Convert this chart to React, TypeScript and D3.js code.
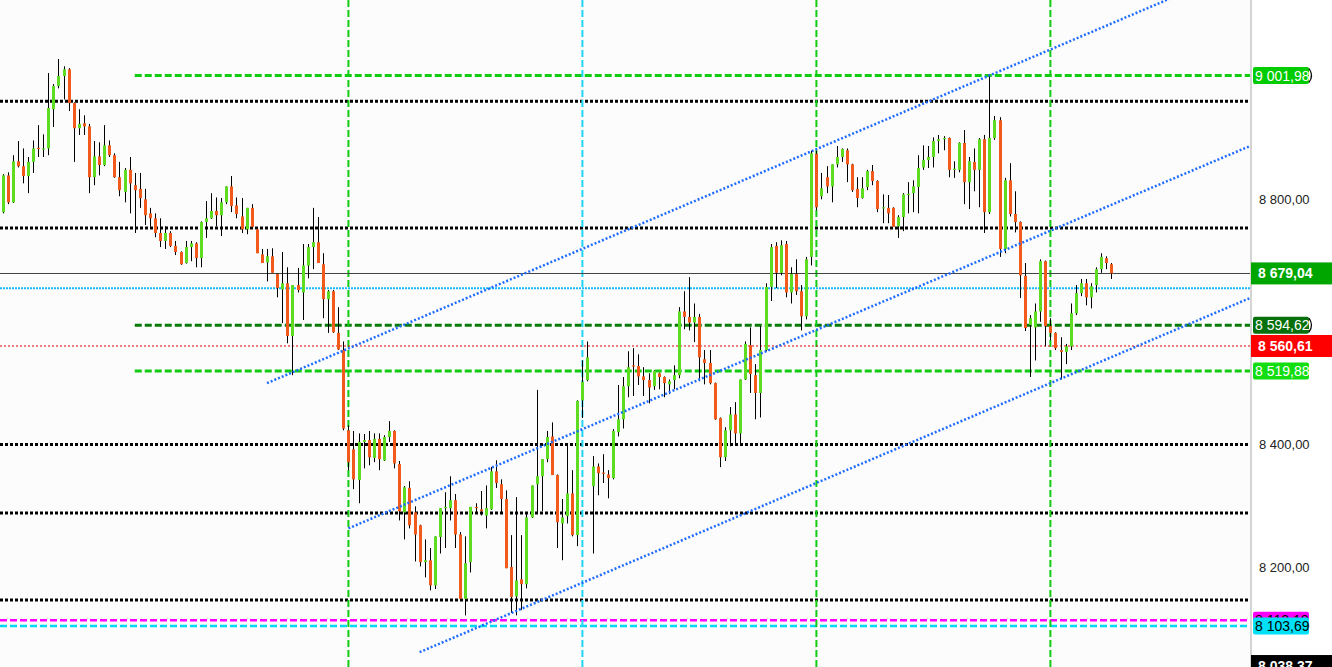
import React from "react";
import * as d3 from "d3";

const W = 1332;
const H = 667;
const PLOT_R = 1250;

const opens = [
  8779, 8839, 8795, 8862, 8854, 8838, 8861, 8884, 8881, 8883, 8947, 8985, 9001, 9012, 8957, 8916, 8924, 8919, 8836, 8870,
  8856, 8888, 8872, 8836, 8812, 8848, 8823, 8817, 8800, 8777, 8769, 8745, 8732, 8745, 8724, 8714, 8696, 8722, 8728, 8704,
  8763, 8769, 8781, 8774, 8795, 8821, 8790, 8772, 8751, 8786, 8751, 8710, 8697, 8707, 8678, 8653, 8663, 8577, 8660, 8648,
  8692, 8722, 8730, 8694, 8637, 8650, 8582, 8554, 8423, 8392, 8342, 8404, 8407, 8378, 8409, 8374, 8412, 8422, 8368, 8289,
  8329, 8289, 8268, 8208, 8211, 8170, 8249, 8296, 8296, 8309, 8253, 8148, 8208, 8298, 8294, 8284, 8294, 8356, 8335, 8311,
  8200, 8152, 8180, 8172, 8281, 8335, 8348, 8376, 8413, 8350, 8271, 8283, 8320, 8252, 8472, 8505, 8332, 8364, 8354, 8351,
  8345, 8420, 8441, 8495, 8529, 8528, 8511, 8505, 8495, 8516, 8510, 8498, 8505, 8513, 8617, 8608, 8599, 8608, 8539, 8533,
  8500, 8443, 8379, 8423, 8449, 8418, 8506, 8562, 8513, 8484, 8554, 8657, 8724, 8680, 8727, 8648, 8678, 8650, 8609, 8706,
  8874, 8805, 8836, 8821, 8857, 8869, 8880, 8857, 8817, 8802, 8820, 8846, 8830, 8785, 8786, 8786, 8756, 8771, 8807, 8810,
  8820, 8852, 8864, 8869, 8895, 8898, 8900, 8848, 8848, 8892, 8828, 8861, 8848, 8898, 8779, 8900, 8929, 8719, 8831, 8776,
  8763, 8675, 8595, 8591, 8617, 8699, 8593, 8582, 8554, 8551, 8560, 8614, 8647, 8663, 8640, 8660, 8686, 8704, 8694,
];
const highs = [
  8841, 8844, 8872, 8895, 8883, 8869, 8896, 8921, 8906, 9006, 8988, 9029, 9017, 9014, 8958, 8947, 8937, 8923, 8895, 8893,
  8921, 8896, 8875, 8861, 8851, 8869, 8843, 8843, 8817, 8786, 8777, 8769, 8756, 8748, 8732, 8715, 8732, 8732, 8730, 8764,
  8797, 8810, 8803, 8802, 8821, 8838, 8803, 8802, 8786, 8792, 8752, 8719, 8719, 8720, 8679, 8714, 8689, 8660, 8688, 8727,
  8727, 8786, 8771, 8712, 8652, 8652, 8624, 8568, 8431, 8422, 8418, 8417, 8422, 8418, 8418, 8415, 8438, 8423, 8373, 8332,
  8340, 8299, 8269, 8245, 8231, 8250, 8296, 8322, 8348, 8319, 8257, 8250, 8298, 8304, 8324, 8333, 8363, 8374, 8343, 8325,
  8252, 8314, 8252, 8288, 8333, 8489, 8376, 8422, 8436, 8351, 8311, 8400, 8358, 8472, 8537, 8568, 8381, 8369, 8384, 8358,
  8425, 8497, 8510, 8552, 8557, 8547, 8526, 8516, 8521, 8517, 8511, 8506, 8529, 8624, 8650, 8673, 8630, 8613, 8554, 8554,
  8501, 8444, 8428, 8461, 8469, 8506, 8568, 8591, 8531, 8593, 8663, 8727, 8730, 8733, 8732, 8689, 8702, 8660, 8706, 8879,
  8879, 8843, 8854, 8857, 8887, 8883, 8883, 8858, 8836, 8836, 8848, 8856, 8831, 8808, 8807, 8787, 8774, 8810, 8828, 8831,
  8872, 8888, 8887, 8901, 8905, 8903, 8901, 8862, 8893, 8913, 8869, 8883, 8900, 8905, 9001.98, 8936, 8934, 8835, 8859, 8813,
  8764, 8696, 8611, 8630, 8702, 8700, 8606, 8583, 8575, 8564, 8630, 8660, 8670, 8670, 8663, 8689, 8712, 8707, 8696,
];
const lows = [
  8777, 8792, 8794, 8852, 8826, 8810, 8843, 8869, 8869, 8872, 8918, 8981, 8963, 8944, 8861, 8905, 8905, 8810, 8823, 8839,
  8854, 8869, 8835, 8805, 8795, 8777, 8745, 8786, 8758, 8755, 8738, 8722, 8719, 8722, 8709, 8693, 8695, 8699, 8689, 8689,
  8737, 8768, 8756, 8740, 8792, 8779, 8769, 8745, 8743, 8753, 8712, 8696, 8666, 8680, 8640, 8598, 8565, 8513, 8648, 8603,
  8671, 8686, 8696, 8606, 8582, 8582, 8554, 8423, 8358, 8327, 8304, 8361, 8366, 8371, 8358, 8373, 8404, 8361, 8276, 8245,
  8263, 8209, 8201, 8183, 8162, 8164, 8222, 8231, 8276, 8231, 8147, 8121, 8191, 8289, 8284, 8263, 8293, 8329, 8288, 8198,
  8125, 8121, 8130, 8165, 8280, 8289, 8291, 8371, 8350, 8231, 8211, 8271, 8250, 8234, 8443, 8503, 8222, 8317, 8337, 8312,
  8343, 8413, 8426, 8477, 8479, 8497, 8479, 8467, 8489, 8490, 8477, 8482, 8490, 8508, 8588, 8586, 8567, 8503, 8498, 8498,
  8440, 8363, 8373, 8397, 8402, 8402, 8505, 8484, 8441, 8444, 8552, 8634, 8655, 8676, 8640, 8630, 8644, 8586, 8604, 8692,
  8782, 8800, 8810, 8795, 8852, 8861, 8828, 8812, 8787, 8801, 8815, 8823, 8779, 8761, 8761, 8755, 8737, 8748, 8777, 8779,
  8777, 8848, 8851, 8852, 8875, 8880, 8836, 8835, 8844, 8792, 8784, 8813, 8787, 8745, 8776, 8897, 8706, 8712, 8772, 8746,
  8639, 8585, 8510, 8537, 8600, 8560, 8570, 8554, 8506, 8531, 8554, 8611, 8642, 8627, 8622, 8648, 8680, 8686, 8670,
];
const closes = [
  8839, 8795, 8862, 8854, 8838, 8861, 8883, 8882, 8883, 8949, 8985, 9001, 9012, 8957, 8916, 8923, 8919, 8836, 8870, 8856,
  8888, 8872, 8836, 8815, 8848, 8826, 8815, 8802, 8774, 8769, 8745, 8732, 8745, 8724, 8714, 8694, 8722, 8728, 8704, 8763,
  8769, 8781, 8774, 8795, 8821, 8789, 8776, 8751, 8786, 8755, 8712, 8696, 8707, 8680, 8655, 8663, 8577, 8660, 8652, 8692,
  8722, 8730, 8696, 8637, 8650, 8583, 8555, 8426, 8371, 8343, 8404, 8407, 8379, 8409, 8376, 8412, 8422, 8369, 8291, 8330,
  8268, 8253, 8208, 8211, 8170, 8250, 8296, 8298, 8309, 8253, 8148, 8206, 8298, 8296, 8291, 8296, 8356, 8337, 8311, 8198,
  8151, 8178, 8172, 8281, 8333, 8348, 8376, 8412, 8350, 8273, 8281, 8320, 8252, 8471, 8502, 8542, 8364, 8353, 8352, 8345,
  8422, 8441, 8495, 8526, 8527, 8511, 8505, 8493, 8520, 8510, 8500, 8503, 8513, 8617, 8608, 8599, 8608, 8542, 8533, 8500,
  8441, 8379, 8423, 8449, 8418, 8506, 8564, 8515, 8484, 8554, 8657, 8722, 8680, 8725, 8648, 8678, 8650, 8609, 8702, 8875,
  8787, 8818, 8821, 8857, 8869, 8882, 8857, 8815, 8802, 8818, 8846, 8830, 8784, 8787, 8777, 8755, 8771, 8808, 8809, 8821,
  8851, 8864, 8869, 8895, 8898, 8900, 8848, 8850, 8892, 8828, 8862, 8848, 8898, 8779, 8900, 8929, 8719, 8831, 8776, 8763,
  8676, 8590, 8606, 8617, 8699, 8593, 8582, 8557, 8551, 8560, 8614, 8647, 8663, 8640, 8658, 8686, 8706, 8696, 8679.04,
];

const yTicks = [8200, 8400, 8600, 8800, 9000];
const pivotLevels = [8960, 8753, 8400, 8288, 8146];
const zoneLevels = [9001.98, 8594.62, 8519.88];
const zoneStartIndex = 26;
const sessionIndexes = [68, 160, 206];
const cyanSessionIndexes = [114];
const bidPrice = 8679.04;
const askPrice = 8655;
const redLevel = 8560.61;
const magentaLevel = 8113.18;
const cyanLevel = 8103.69;
const lowLevel = 8038.37;
// trend channel lines: start index, start value, slope per bar
const trendStartIdx = [52, 68, 82];
const trendStartVal = [8500, 8263, 8061];
const trendSlopes = [3.535, 3.52, 3.54];

const locale = d3.formatLocale({ decimal: ",", thousands: " ", grouping: [3], currency: ["", ""] });
const fmt = locale.format(",.2f");

const FONT = "'Liberation Sans', Arial, sans-serif";
const GREEN = "#5ddc22";
const ORANGE = "#f25a1c";

export default function App() {
  const x = d3.scaleLinear().domain([0, 245.24]).range([2.5, PLOT_R]);
  const y = d3.scaleLinear().domain([8036.8, 9125.2]).range([H, 0]);
  const lastIdx = 245.24;

  const tags = [
    { v: zoneLevels[0], fill: "#00cc00", color: "#fff", bold: false, full: false, arc: true },
    { v: bidPrice, fill: "#00a600", color: "#fff", bold: true, full: true, arc: false },
    { v: zoneLevels[1], fill: "#08700a", color: "#fff", bold: false, full: false, arc: true },
    { v: redLevel, fill: "#ff0000", color: "#fff", bold: true, full: true, arc: false },
    { v: zoneLevels[2], fill: "#11dd11", color: "#fff", bold: false, full: false, arc: false },
    { v: magentaLevel, fill: "#ff00ff", color: "#000", bold: false, full: false, arc: false },
    { v: cyanLevel, fill: "#00e0f8", color: "#000", bold: false, full: false, arc: false },
    { v: lowLevel, fill: "#000000", color: "#fff", bold: true, full: true, arc: false },
  ];

  // tick labels hidden under a price tag are not drawn (as in the reference)
  const visibleTicks = yTicks.filter((t) => tags.every((tg) => Math.abs(y(tg.v) - y(t)) > 10));

  return (
    <div style={{ position: "fixed", left: 0, top: 0, width: W, height: H, overflow: "hidden" }}>
      <svg width={W} height={H} style={{ display: "block", fontFamily: FONT }}>
        <defs>
          <clipPath id="plot">
            <rect x={0} y={0} width={PLOT_R} height={H} />
          </clipPath>
        </defs>
        <rect x={0} y={0} width={W} height={H} fill="#ffffff" />
        <rect x={0} y={0} width={PLOT_R} height={H} fill="#fcfcfc" />

        <g clipPath="url(#plot)">
          {pivotLevels.map((v, i) => (
            <line key={"p" + i} x1={0} x2={PLOT_R} y1={y(v)} y2={y(v)} stroke="#000" strokeWidth={3} strokeDasharray="3 2" />
          ))}
          <line x1={0} x2={PLOT_R} y1={y(magentaLevel)} y2={y(magentaLevel)} stroke="#ff00ff" strokeWidth={2.5} strokeDasharray="7 3" />
          <line x1={0} x2={PLOT_R} y1={y(cyanLevel)} y2={y(cyanLevel)} stroke="#00d8f8" strokeWidth={2.5} strokeDasharray="7 3" />
          {zoneLevels.map((v, i) => (
            <line key={"z" + i} x1={x(zoneStartIndex)} x2={PLOT_R} y1={y(v)} y2={y(v)}
              stroke={i === 1 ? "#087a08" : "#11cc11"} strokeWidth={3} strokeDasharray="7 3" />
          ))}
          {sessionIndexes.map((s, i) => (
            <line key={"s" + i} x1={x(s)} x2={x(s)} y1={0} y2={H} stroke="#11cc11" strokeWidth={2} strokeDasharray="7 3" />
          ))}
          {cyanSessionIndexes.map((s, i) => (
            <line key={"c" + i} x1={x(s)} x2={x(s)} y1={0} y2={H} stroke="#22d4f4" strokeWidth={2} strokeDasharray="7 3" />
          ))}
          <line x1={0} x2={PLOT_R} y1={y(askPrice)} y2={y(askPrice)} stroke="#1ab8ff" strokeWidth={2} strokeDasharray="2 1" />
          <line x1={0} x2={PLOT_R} y1={y(redLevel)} y2={y(redLevel)} stroke="#e00000" strokeWidth={1} strokeDasharray="2 2" />
          <line x1={0} x2={PLOT_R} y1={Math.round(y(bidPrice)) + 0.5} y2={Math.round(y(bidPrice)) + 0.5} stroke="#444" strokeWidth={1} />

          {opens.map((o, i) => {
            const c = closes[i];
            const cx = Math.round(x(i));
            const up = c >= o;
            const top = y(Math.max(o, c));
            const bot = y(Math.min(o, c));
            return (
              <g key={"k" + i}>
                <line x1={cx + 0.5} x2={cx + 0.5} y1={y(highs[i])} y2={y(lows[i])} stroke="#000" strokeWidth={1} />
                <rect x={cx - 1} y={top} width={3} height={Math.max(1, bot - top)} fill={up ? GREEN : ORANGE} />
              </g>
            );
          })}

          {trendStartIdx.map((s, i) => (
            <line key={"t" + i} x1={x(s)} y1={y(trendStartVal[i])} x2={x(lastIdx)}
              y2={y(trendStartVal[i] + trendSlopes[i] * (lastIdx - s))}
              stroke="#1f6cff" strokeWidth={2.5} strokeDasharray="2 2" />
          ))}
        </g>

        <line x1={PLOT_R + 1} x2={PLOT_R + 1} y1={0} y2={H} stroke="#d4d4d4" strokeWidth={2} />

        {visibleTicks.map((t) => (
          <text key={"yt" + t} x={1259} y={y(t)} dy="0.35em" fontSize={13} fill="#222">{fmt(t)}</text>
        ))}

        {tags.map((tg, i) => {
          const cy = y(tg.v);
          const hh = tg.full ? 22 : 17;
          const x0 = tg.full ? PLOT_R + 1 : 1253;
          const w = tg.full ? W - x0 : 56;
          return (
            <g key={"tag" + i}>
              <rect x={x0} y={cy - hh / 2} width={w} height={hh} rx={tg.full ? 0 : 2} fill={tg.fill} />
              {tg.arc && (
                <path d={`M${x0 + w},${cy - 7} Q${x0 + w + 5},${cy} ${x0 + w},${cy + 7}`} fill="none" stroke="#000" strokeWidth={1.2} />
              )}
              <text x={tg.full ? x0 + 7 : x0 + 2} y={cy} dy="0.36em" fontSize={14}
                fontWeight={tg.bold ? "bold" : "normal"} fill={tg.color}>
                {fmt(tg.v)}
              </text>
            </g>
          );
        })}
      </svg>
    </div>
  );
}
